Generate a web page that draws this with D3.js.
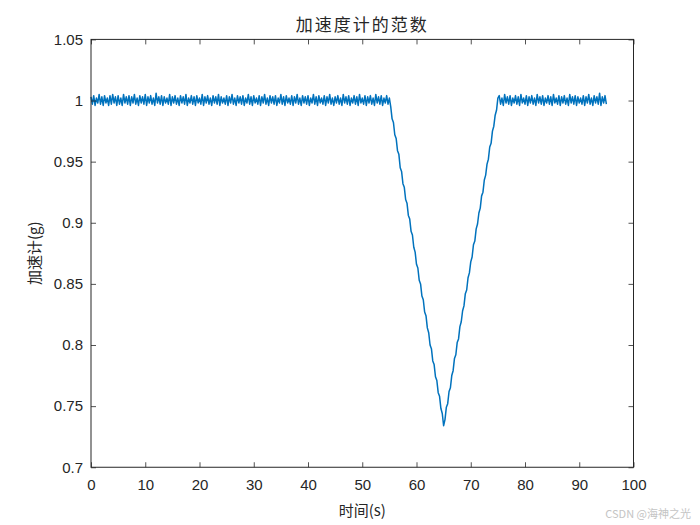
<!DOCTYPE html>
<html>
<head>
<meta charset="utf-8">
<script src="https://cdn.jsdelivr.net/npm/d3@7"></script>
<style>
  html, body { margin: 0; padding: 0; background: #fff; }
  svg { display: block; }
</style>
</head>
<body>
<svg id="chart" width="700" height="525"></svg>
<script>
// ---------------- data ----------------
const titleText = "加速度计的范数";
const xLabel = "时间(s)";
const yLabel = "加速计(g)";
const watermark = "CSDN @海神之光";

const xTicks = [0, 10, 20, 30, 40, 50, 60, 70, 80, 90, 100];
const yTicks = [0.7, 0.75, 0.8, 0.85, 0.9, 0.95, 1.0, 1.05];
const yTickLabels = ["0.7", "0.75", "0.8", "0.85", "0.9", "0.95", "1", "1.05"];

const sampleStart = 0;     // s
const sampleStep = 0.25;   // s

// 0 .. 55 s
const flatBefore = [
  1.003,0.997,1.004,0.996,1.002,0.998,1.005,0.997,1.003,0.996,1.004,0.998,1.002,0.996,1.004,0.997,1.005,0.998,1.003,0.996,
  1.004,0.997,1.002,0.996,1.005,0.998,1.003,0.997,1.004,0.996,1.003,0.998,1.005,0.997,1.002,0.996,1.004,0.998,1.003,0.997,
  1.005,0.996,1.003,0.998,1.004,0.997,1.002,0.996,1.006,0.998,1.003,0.997,1.004,0.996,1.003,0.998,1.002,0.997,1.005,0.996,
  1.003,0.998,1.004,0.997,1.002,0.996,1.004,0.998,1.003,0.997,1.005,0.996,1.002,0.998,1.004,0.997,1.003,0.996,1.004,0.998,
  1.002,0.997,1.005,0.996,1.003,0.998,1.004,0.997,1.002,0.996,1.004,0.998,1.003,0.997,1.005,0.996,1.003,0.998,1.002,0.997,
  1.004,0.996,1.003,0.998,1.005,0.997,1.002,0.996,1.004,0.998,1.003,0.997,1.004,0.996,1.002,0.998,1.005,0.997,1.003,0.996,
  1.004,0.998,1.002,0.997,1.004,0.996,1.003,0.998,1.005,0.997,1.002,0.996,1.004,0.998,1.003,0.997,1.004,0.996,1.002,0.998,
  1.005,0.997,1.003,0.996,1.004,0.998,1.002,0.997,1.004,0.996,1.003,0.998,1.005,0.997,1.002,0.996,1.004,0.998,1.003,0.997,
  1.004,0.996,1.002,0.998,1.005,0.997,1.003,0.996,1.004,0.998,1.002,0.997,1.004,0.996,1.003,0.998,1.005,0.997,1.002,0.996,
  1.003,0.998,1.004,0.997,1.002,0.996,1.005,0.998,1.003,0.997,1.004,0.996,1.002,0.998,1.004,0.997,1.003,0.996,1.005,0.998,
  1.002,0.997,1.004,0.996,1.003,0.998,1.004,0.997,1.002,0.996,1.005,0.998,1.003,0.997,1.004,0.996,1.002,0.998,1.004,0.997,1.002
];

// 55.25 .. 65 s
const rampDown = [
  0.995,0.985,0.982,0.972,0.969,0.959,0.956,0.945,0.942,0.932,
  0.929,0.919,0.916,0.906,0.903,0.893,0.890,0.880,0.876,0.866,
  0.863,0.853,0.850,0.840,0.837,0.827,0.824,0.814,0.810,0.800,
  0.797,0.787,0.784,0.774,0.771,0.761,0.758,0.748,0.744,0.734
];

// 65.25 .. 75 s
const rampUp = [
  0.739,0.749,0.752,0.762,0.765,0.775,0.779,0.789,0.792,0.802,
  0.805,0.815,0.819,0.828,0.832,0.842,0.845,0.855,0.859,0.868,
  0.872,0.882,0.885,0.895,0.899,0.908,0.912,0.922,0.925,0.935,
  0.939,0.948,0.952,0.962,0.965,0.975,0.979,0.988,0.992,1.002
];

// 75.25 .. 95 s
const flatAfter = [
  1.004,0.997,1.002,0.996,1.005,0.998,1.003,0.997,1.004,0.996,1.002,0.998,1.004,0.997,1.003,0.996,1.005,0.998,1.002,0.997,
  1.004,0.996,1.003,0.998,1.004,0.997,1.002,0.996,1.005,0.998,1.003,0.997,1.004,0.996,1.002,0.998,1.004,0.997,1.003,0.996,
  1.005,0.998,1.002,0.997,1.004,0.996,1.003,0.998,1.004,0.997,1.002,0.996,1.005,0.998,1.003,0.997,1.004,0.996,1.003,0.998,
  1.002,0.997,1.004,0.996,1.003,0.998,1.005,0.997,1.002,0.996,1.004,0.998,1.003,0.997,1.006,0.996,1.003,0.998,1.004,0.997
];

// ---------------- chart ----------------
const svg = d3.select("#chart");
const plot = { left: 91, right: 633.5, top: 39.4, bottom: 467.25 };
const axisColor = "#262626";
const lineColor = "#0072BD";
const tickFont = "'Liberation Sans', Arial, Helvetica, sans-serif";
const cjkFont = "'Noto Sans CJK SC', 'Noto Sans', sans-serif";

const x = d3.scaleLinear().domain([0, 100]).range([plot.left, plot.right]);
const y = d3.scaleLinear().domain([0.7, 1.05]).range([plot.bottom, plot.top]);

const series = flatBefore.concat(rampDown, rampUp, flatAfter)
  .map((v, i) => ({ t: sampleStart + i * sampleStep, v }));

// data line
svg.append("path")
  .datum(series)
  .attr("fill", "none")
  .attr("stroke", lineColor)
  .attr("stroke-width", 1.5)
  .attr("stroke-linejoin", "round")
  .attr("d", d3.line().x(d => x(d.t)).y(d => y(d.v)));

function styleAxis(g, showText) {
  g.select(".domain").remove();
  g.selectAll(".tick line").attr("stroke", axisColor).attr("stroke-width", 0.8);
  g.selectAll(".tick text")
    .attr("fill", axisColor)
    .style("font-family", tickFont)
    .style("font-size", "15px");
  if (!showText) g.selectAll(".tick text").remove();
}

const tickLen = 5;
// bottom
svg.append("g")
  .attr("transform", `translate(0,${plot.bottom})`)
  .call(d3.axisBottom(x).tickValues(xTicks).tickSize(-tickLen).tickPadding(8).tickFormat(d3.format("d")))
  .call(g => styleAxis(g, true))
  .call(g => g.selectAll(".tick text").attr("y", 12).attr("dy", "0.71em"));
// top
svg.append("g")
  .attr("transform", `translate(0,${plot.top})`)
  .call(d3.axisTop(x).tickValues(xTicks).tickSize(-tickLen))
  .call(g => styleAxis(g, false));
// left
svg.append("g")
  .attr("transform", `translate(${plot.left},0)`)
  .call(d3.axisLeft(y).tickValues(yTicks).tickSize(-tickLen).tickPadding(8)
    .tickFormat((d, i) => yTickLabels[i]))
  .call(g => styleAxis(g, true))
  .call(g => g.selectAll(".tick text").attr("x", -8));
// right
svg.append("g")
  .attr("transform", `translate(${plot.right},0)`)
  .call(d3.axisRight(y).tickValues(yTicks).tickSize(-tickLen))
  .call(g => styleAxis(g, false));

// box
svg.append("rect")
  .attr("x", plot.left).attr("y", plot.top)
  .attr("width", plot.right - plot.left).attr("height", plot.bottom - plot.top)
  .attr("fill", "none").attr("stroke", axisColor).attr("stroke-width", 1);

// title
svg.append("text")
  .attr("x", (plot.left + plot.right) / 2).attr("y", 31)
  .attr("text-anchor", "middle")
  .attr("fill", axisColor)
  .style("font-family", cjkFont)
  .style("font-size", "17px")
  .style("letter-spacing", "2px")
  .text(titleText);

// x label
svg.append("text")
  .attr("x", (plot.left + plot.right) / 2).attr("y", 516)
  .attr("text-anchor", "middle")
  .attr("fill", axisColor)
  .style("font-family", cjkFont)
  .style("font-size", "15px")
  .text(xLabel);

// y label
svg.append("text")
  .attr("transform", `translate(40,${(plot.top + plot.bottom) / 2}) rotate(-90)`)
  .attr("text-anchor", "middle")
  .attr("fill", axisColor)
  .style("font-family", cjkFont)
  .style("font-size", "15px")
  .text(yLabel);

// watermark
svg.append("text")
  .attr("x", 691).attr("y", 518)
  .attr("text-anchor", "end")
  .attr("fill", "#c4c4c4")
  .style("font-family", cjkFont)
  .style("font-size", "11px")
  .text(watermark);
</script>
</body>
</html>
